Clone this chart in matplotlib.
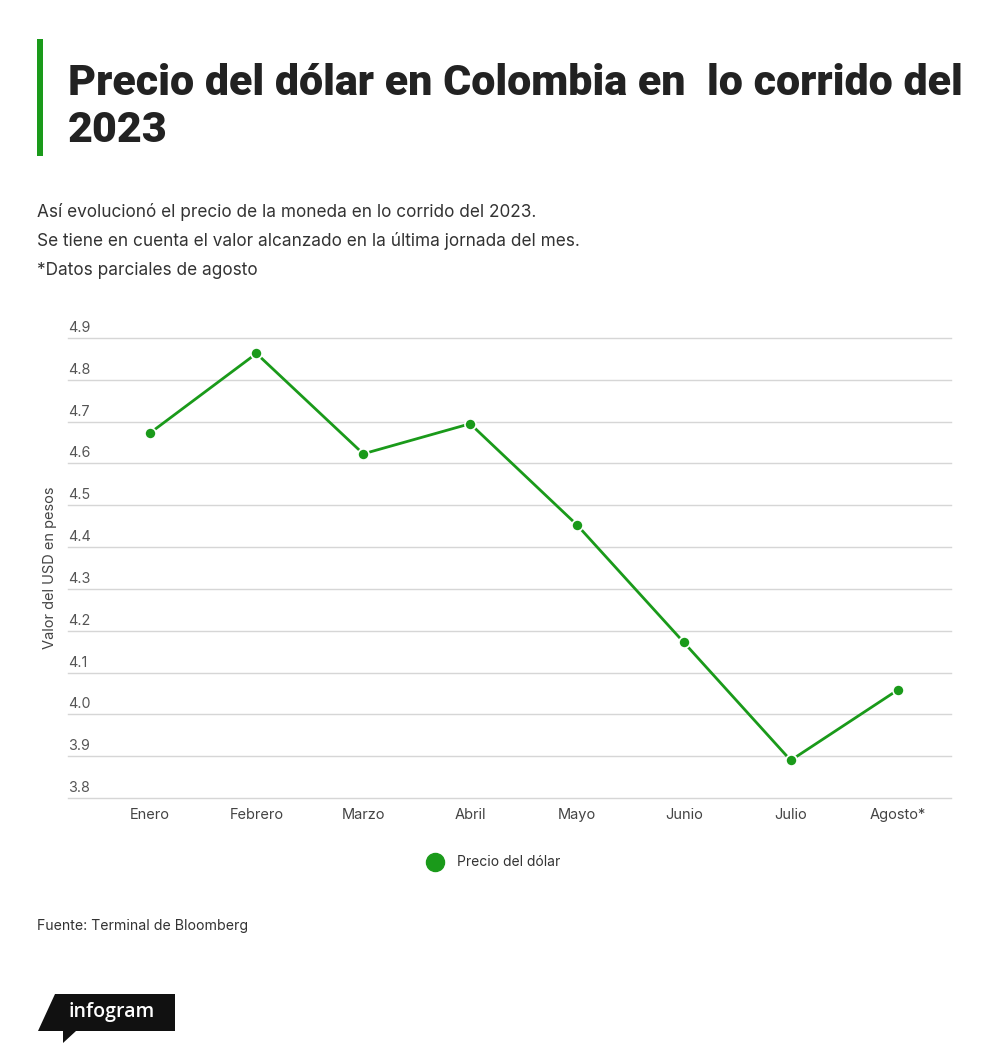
import matplotlib
matplotlib.use("Agg")
import matplotlib.pyplot as plt
from matplotlib.patches import Polygon, Rectangle
from matplotlib.lines import Line2D
import matplotlib.transforms as mtransforms

W, H = 1000, 1063

months = ["Enero", "Febrero", "Marzo", "Abril", "Mayo", "Junio", "Julio", "Agosto*"]
prices = [4.672, 4.863, 4.623, 4.695, 4.453, 4.172, 3.890, 4.058]
yticks = [3.8, 3.9, 4.0, 4.1, 4.2, 4.3, 4.4, 4.5, 4.6, 4.7, 4.8, 4.9]
ytick_labels = ["3.8", "3.9", "4.0", "4.1", "4.2", "4.3", "4.4", "4.5", "4.6", "4.7", "4.8", "4.9"]

title = "Precio del dólar en Colombia en  lo corrido del\n2023"
subtitle = ["Así evolucionó el precio de la moneda en lo corrido del 2023.",
            "Se tiene en cuenta el valor alcanzado en la última jornada del mes.",
            "*Datos parciales de agosto"]
series_name = "Precio del dólar"
source = "Fuente: Terminal de Bloomberg"
ylabel = "Valor del USD en pesos"

GREEN = "#1a9a1a"
TXT = "#222222"

def fx(x):
    return x / W

def fy(y):
    return 1 - y / H

fig = plt.figure(figsize=(W / 100, H / 100), dpi=100)
fig.patch.set_facecolor("white")

# green bar
fig.patches.append(Rectangle((fx(37), fy(156)), 6 / W, 117 / H, transform=fig.transFigure,
                             facecolor=GREEN, edgecolor="none"))

tl = title.split("\n")
fig.text(fx(68), fy(95), tl[0], fontsize=31, fontweight=900,
         family="Roboto", color=TXT, va="baseline", ha="left")
fig.text(fx(68), fy(142), tl[1], fontsize=31, fontweight=900,
         family="Roboto", color=TXT, va="baseline", ha="left")

for i, s in enumerate(subtitle):
    fig.text(fx(37), fy(217 + 29 * i), s, fontsize=12.4, family="Inter",
             color="#333333", va="baseline", ha="left")

# axes
left, right, top, bottom = 68, 951, 338, 798
ax = fig.add_axes([fx(left), fy(bottom), (right - left) / W, (bottom - top) / H])
step = (897 - 149) / 7
xl = 7.5 - (right - left) / step
ax.set_xlim(xl, 7.5)
ax.set_ylim(3.8, 4.9)
for sp in ax.spines.values():
    sp.set_visible(False)
ax.set_yticks([])
ax.set_xticks(range(len(months)))
ax.set_xticklabels(months, fontsize=10.5, color="#444444", family="Inter")
ax.tick_params(axis="x", length=0, pad=7)

for v, lab in zip(yticks, ytick_labels):
    ax.axhline(v, color="#d6d6d6", lw=1, zorder=1, clip_on=False)
    off = mtransforms.offset_copy(ax.transData, fig=fig, x=0, y=3, units="dots")
    ax.text(xl, v, lab, transform=off, fontsize=10.3, color="#555555",
            family="Inter", ha="left", va="bottom")

ax.plot(range(len(months)), prices, color=GREEN, lw=2, marker="o", ms=8,
        mfc=GREEN, mec="white", mew=1.2, zorder=3, clip_on=False)

fig.text(fx(50), fy(568), ylabel, rotation=90, fontsize=10.5, color="#444444",
         family="Inter", ha="center", va="center")

# legend
fig.lines.append(Line2D([fx(435)], [fy(862)], marker="o", ms=13, color=GREEN,
                        transform=fig.transFigure, linestyle="none"))
fig.text(fx(457), fy(862), series_name, fontsize=10, color="#333333", family="Inter",
         ha="left", va="center")

fig.text(fx(37), fy(926), source, fontsize=10.2, color="#333333", family="Inter",
         ha="left", va="center")

# infogram logo
logo = [(55, 994), (175, 994), (175, 1031), (76, 1031), (63, 1043), (63, 1031), (38, 1031)]
fig.patches.append(Polygon([(fx(a), fy(b)) for a, b in logo], closed=True,
                           transform=fig.transFigure, facecolor="#111111", edgecolor="none"))
fig.text(fx(112), fy(1012), "infogram", fontsize=14, color="white", family="Open Sans",
         fontweight="semibold", ha="center", va="center")

fig.savefig("out.png", dpi=100)
